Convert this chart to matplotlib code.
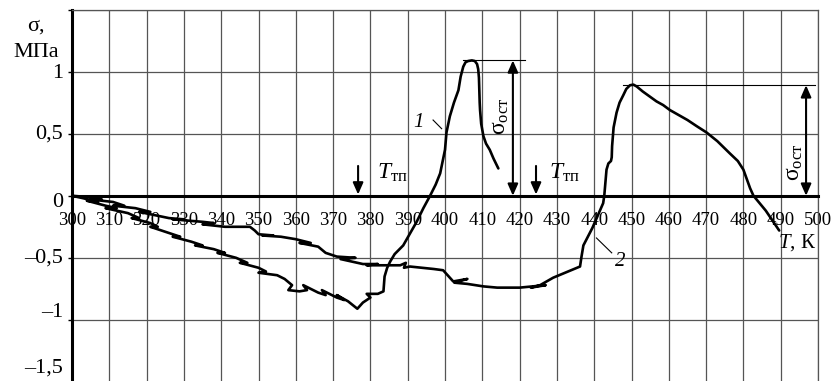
import matplotlib
matplotlib.use('Agg')
import matplotlib.pyplot as plt

plt.rcParams['font.family'] = ['Liberation Serif', 'DejaVu Serif']
plt.rcParams['mathtext.fontset'] = 'custom'
plt.rcParams['mathtext.rm'] = 'Liberation Serif'
plt.rcParams['mathtext.it'] = 'Liberation Serif:italic'

# ---- data ----
x_ticks = list(range(300, 501, 10))
y_ticks = [-1.5, -1.0, -0.5, 0.0, 0.5, 1.0, 1.5]
y_labels = ['–1,5', '–1', '–0,5', '0', '0,5', '1', '']

# curve 1 (temperature, K / stress, MPa)
T1 = [300, 303, 307, 304, 309, 312, 309, 315, 318, 316, 321, 323, 321, 326,
      329, 327, 332, 335, 333, 338, 341, 339, 344, 347, 345, 350, 352, 350,
      355, 357, 359, 358, 361, 363, 362, 366, 368, 367, 371, 373, 371, 374,
      376.5, 378, 380, 379, 382, 383.5, 383.8, 384.5, 385.3, 386.5, 388.8,
      390.5, 392.4, 394.2, 396, 397.5, 398.7, 400, 400.4, 401.3, 402.4, 403.6,
      404.2, 404.9, 405.5, 406.2, 407.2, 408, 408.6, 408.9, 409.1, 409.2,
      409.3, 409.4, 409.7, 410.3, 411, 412, 413, 414.3]
s1 = [0.0, -0.02, -0.05, -0.04, -0.08, -0.10, -0.10, -0.14, -0.18, -0.18,
      -0.22, -0.25, -0.25, -0.30, -0.33, -0.33, -0.37, -0.40, -0.40, -0.43,
      -0.46, -0.46, -0.50, -0.54, -0.54, -0.58, -0.61, -0.62, -0.64, -0.67,
      -0.72, -0.76, -0.77, -0.76, -0.72, -0.78, -0.80, -0.76, -0.82, -0.84,
      -0.80, -0.85, -0.91, -0.86, -0.82, -0.79, -0.79, -0.77, -0.65, -0.58,
      -0.53, -0.47, -0.40, -0.31, -0.21, -0.10, 0.0, 0.09, 0.18, 0.37, 0.51,
      0.64, 0.75, 0.85, 0.96, 1.04, 1.075, 1.085, 1.09, 1.085, 1.06, 1.02,
      0.95, 0.85, 0.75, 0.69, 0.58, 0.48, 0.42, 0.37, 0.30, 0.22]

# curve 2
T2 = [300, 304, 308, 305, 311, 314, 311, 317, 321, 318, 326, 330, 327, 335,
      338, 335, 341, 344, 347.7, 349, 350, 354, 351, 356, 360, 364, 361, 366,
      368, 371, 376, 372, 378, 382, 379, 384, 388, 389.5, 389, 390.6, 397,
      399.5, 402.2, 406, 402.5, 406, 410.3, 414, 414.7, 420, 427, 423, 425.5,
      429, 436.2, 436.6, 437.1, 439.5, 442.4, 442.7, 443.3, 443.8, 444.5,
      444.7, 444.8, 445.2, 446, 446.8, 447.8, 448.6, 449.6, 450.5, 451.4, 453,
      456.7, 458.5, 460.3, 465, 467.5, 470.1, 473, 476.4, 478.5, 480, 481.8,
      482.7, 486, 489.6]
s2 = [0.0, -0.01, -0.03, -0.03, -0.05, -0.08, -0.08, -0.10, -0.13, -0.13,
      -0.18, -0.19, -0.19, -0.21, -0.22, -0.23, -0.25, -0.25, -0.25, -0.28,
      -0.31, -0.32, -0.32, -0.33, -0.35, -0.38, -0.38, -0.41, -0.46, -0.49,
      -0.50, -0.51, -0.55, -0.55, -0.56, -0.56, -0.56, -0.54, -0.58, -0.57,
      -0.59, -0.60, -0.69, -0.67, -0.70, -0.71, -0.73, -0.74, -0.74, -0.74,
      -0.72, -0.74, -0.72, -0.66, -0.57, -0.49, -0.40, -0.26, -0.06, 0.0,
      0.21, 0.26, 0.28, 0.31, 0.40, 0.55, 0.67, 0.75, 0.81, 0.86, 0.89, 0.895,
      0.88, 0.84, 0.76, 0.73, 0.69, 0.61, 0.56, 0.51, 0.44, 0.34, 0.28, 0.21,
      0.06, 0.0, -0.12, -0.28]

peak1 = 1.09
peak2 = 0.89
T_tp = [376.7, 424.4]

assert len(T1) == len(s1) and len(T2) == len(s2)

W, H = 837, 381
fig = plt.figure(figsize=(W / 100, H / 100), dpi=100)
ax = fig.add_axes([72 / W, (H - 382) / H, 746 / W, (382 - 9.5) / H])
ax.set_xlim(300, 500)
ax.set_ylim(-1.5, 1.5)

gc = '#555555'
ax.set_xticks(x_ticks)
ax.set_yticks(y_ticks)
ax.grid(True, color=gc, lw=0.9)
ax.set_axisbelow(True)
ax.spines['bottom'].set_position(('data', 0))
ax.spines['bottom'].set_linewidth(2.2)
ax.spines['left'].set_linewidth(2.2)
for sp in ('top', 'right'):
    ax.spines[sp].set_color(gc)
    ax.spines[sp].set_linewidth(0.9)
ax.tick_params(axis='x', length=0, pad=12, labelsize=13.5)
ax.set_xticklabels([str(t) for t in x_ticks])
ax.tick_params(axis='y', length=3, width=1, labelleft=False)

y_off = {'1': -2, '0,5': 0, '0': -7, '–0,5': 0, '–1': 7, '–1,5': 14}
for v, lb in zip(y_ticks, y_labels):
    if lb:
        ax.annotate(lb, xy=(0, v), xycoords=('axes fraction', 'data'),
                    xytext=(-9, y_off[lb]), textcoords='offset pixels',
                    ha='right', va='center', fontsize=16)

fig.text(27 / W, 1 - 31 / H, 'σ,', fontsize=16, va='baseline', ha='left')
fig.text(36.5 / W, 1 - 57 / H, 'МПа', fontsize=16, va='baseline', ha='center')

ax.plot(T1, s1, color='k', lw=1.9, solid_joinstyle='round',
        solid_capstyle='round', zorder=3)
ax.plot(T2, s2, color='k', lw=1.9, solid_joinstyle='round',
        solid_capstyle='round', zorder=3)

# peak annotations
ax.plot([404.9, 421.5], [peak1, peak1], color='k', lw=0.8)
ax.plot([447.7, 499.2], [peak2, peak2], color='k', lw=0.8)
dbl = dict(arrowstyle='<|-|>,head_length=0.5,head_width=0.22', color='k',
           lw=1.5, mutation_scale=14, shrinkA=0, shrinkB=0)
ax.annotate('', xy=(418.2, 0), xytext=(418.2, peak1), arrowprops=dbl)
ax.annotate('', xy=(496.8, 0), xytext=(496.8, peak2), arrowprops=dbl)
ax.text(415, 0.64, r'$\mathrm{σ}_{\mathrm{ост}}$', rotation=90, fontsize=17,
        ha='center', va='center')
ax.text(493.6, 0.27, r'$\mathrm{σ}_{\mathrm{ост}}$', rotation=90, fontsize=17,
        ha='center', va='center')

sgl = dict(arrowstyle='-|>,head_length=0.5,head_width=0.22', color='k',
           lw=1.5, mutation_scale=14, shrinkA=0, shrinkB=0)
for t, tx in zip(T_tp, [381.8, 427.9]):
    ax.annotate('', xy=(t, 0.01), xytext=(t, 0.24), arrowprops=sgl)
    ax.text(tx, 0.137, r'$T_{\mathrm{тп}}$', fontsize=17, ha='left',
            va='baseline')

# curve labels
ax.text(392.8, 0.59, '1', fontsize=15, style='italic', ha='center', va='center')
ax.plot([396.8, 399.1], [0.61, 0.54], color='k', lw=0.8)
ax.text(446.9, -0.53, '2', fontsize=15, style='italic', ha='center', va='center')
ax.plot([440.6, 444.7], [-0.34, -0.46], color='k', lw=0.8)

ax.text(489.3, -0.42, r'$T$, К', fontsize=15, ha='left', va='baseline')

fig.savefig('out.png', dpi=100)
